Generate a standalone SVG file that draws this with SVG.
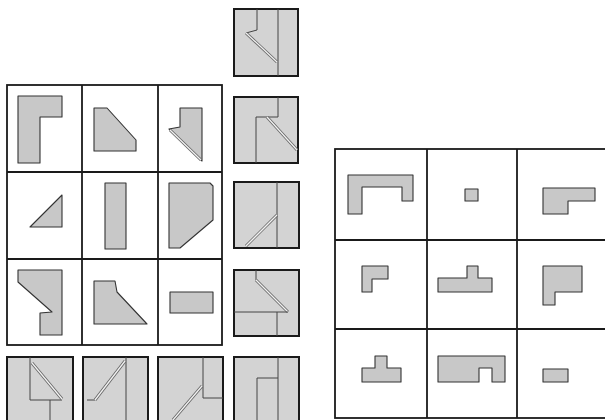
<svg xmlns="http://www.w3.org/2000/svg" width="605" height="420" viewBox="0 0 605 420">
<style>
.grid{fill:none;stroke:#1a1a1a;stroke-width:1.8}
.shp{fill:#c8c8c8;stroke:#333;stroke-width:1.1;stroke-linejoin:round}
.sq{fill:#d3d3d3;stroke:#1a1a1a;stroke-width:2}
.ln{fill:none;stroke:#444;stroke-width:1}
.gd{fill:none;stroke:#666;stroke-width:3}
.gl{fill:none;stroke:#f2f2f2;stroke-width:1.3}
</style>
<rect width="605" height="420" fill="#fff"/>
<g id="left-grid">
<rect class="grid" x="7" y="85" width="215" height="260"/>
<line class="grid" x1="82" y1="85" x2="82" y2="345"/>
<line class="grid" x1="158" y1="85" x2="158" y2="345"/>
<line class="grid" x1="7" y1="172" x2="222" y2="172"/>
<line class="grid" x1="7" y1="259" x2="222" y2="259"/>
<polygon class="shp" points="18,96 62,96 62,117 40,117 40,163 18,163"/>
<polygon class="shp" points="94,108 107,108 136,140 136,151 94,151"/>
<polygon class="shp" points="180,108 202,108 202,161 169,129 180,127"/>
<line class="gd" x1="170" y1="130" x2="201" y2="160"/>
<line class="gl" x1="170" y1="130" x2="201" y2="160"/>
<polygon class="shp" points="30,227 62,227 62,195"/>
<rect class="shp" x="105" y="183" width="21" height="66"/>
<polygon class="shp" points="169,183 210,183 213,186 213,220 180,248 169,248"/>
<polygon class="shp" points="18,270 62,270 62,335 40,335 40,313 52,312 18,282"/>
<polygon class="shp" points="94,281 115,281 117,292 147,324 94,324"/>
<rect class="shp" x="170" y="292" width="43" height="21"/>
</g>
<g id="bottom-squares">
<rect class="sq" x="7" y="357" width="66" height="70"/>
<polyline class="ln" points="30,357 30,400 62,400"/>
<line class="ln" x1="50" y1="400" x2="50" y2="427"/>
<line class="gd" x1="32" y1="363" x2="62" y2="399"/>
<line class="gl" x1="32" y1="363" x2="62" y2="399"/>
<rect class="sq" x="83" y="357" width="65" height="70"/>
<line class="ln" x1="126" y1="357" x2="126" y2="427"/>
<line class="ln" x1="87" y1="400" x2="95" y2="400"/>
<line class="gd" x1="95" y1="400" x2="125" y2="361"/>
<line class="gl" x1="95" y1="400" x2="125" y2="361"/>
<rect class="sq" x="158" y="357" width="65" height="70"/>
<polyline class="ln" points="203,357 203,398 223,398"/>
<line class="gd" x1="202" y1="386" x2="173" y2="420"/>
<line class="gl" x1="202" y1="386" x2="173" y2="420"/>
</g>
<g id="right-column">
<rect class="sq" x="234" y="9" width="64" height="67"/>
<line class="ln" x1="278" y1="9" x2="278" y2="76"/>
<polyline class="ln" points="257,9 257,30 246,33"/>
<line class="gd" x1="246" y1="33" x2="277" y2="62"/>
<line class="gl" x1="246" y1="33" x2="277" y2="62"/>
<rect class="sq" x="234" y="97" width="64" height="66"/>
<polyline class="ln" points="278,97 278,117 256,117 256,163"/>
<line class="gd" x1="267" y1="117" x2="297" y2="150"/>
<line class="gl" x1="267" y1="117" x2="297" y2="150"/>
<rect class="sq" x="234" y="182" width="65" height="66"/>
<line class="ln" x1="277" y1="182" x2="277" y2="248"/>
<line class="gd" x1="246" y1="246" x2="277" y2="215"/>
<line class="gl" x1="246" y1="246" x2="277" y2="215"/>
<rect class="sq" x="234" y="270" width="65" height="66"/>
<line class="ln" x1="256" y1="270" x2="256" y2="280"/>
<line class="gd" x1="256" y1="280" x2="288" y2="312"/>
<line class="gl" x1="256" y1="280" x2="288" y2="312"/>
<line class="ln" x1="234" y1="312" x2="288" y2="312"/>
<line class="ln" x1="277" y1="312" x2="277" y2="336"/>
<rect class="sq" x="234" y="357" width="65" height="70"/>
<line class="ln" x1="278" y1="357" x2="278" y2="427"/>
<polyline class="ln" points="278,378 257,378 257,427"/>
</g>
<g id="right-grid">
<rect class="grid" x="335" y="149" width="272" height="269"/>
<line class="grid" x1="427" y1="149" x2="427" y2="418"/>
<line class="grid" x1="517" y1="149" x2="517" y2="418"/>
<line class="grid" x1="335" y1="240" x2="607" y2="240"/>
<line class="grid" x1="335" y1="329" x2="607" y2="329"/>
<polygon class="shp" points="348,175 413,175 413,201 402,201 402,187 362,187 362,214 348,214"/>
<rect class="shp" x="465" y="189" width="13" height="12"/>
<polygon class="shp" points="543,188 595,188 595,201 568,201 568,214 543,214"/>
<polygon class="shp" points="362,266 388,266 388,279 372,279 372,292 362,292"/>
<polygon class="shp" points="438,278 467,278 467,266 478,266 478,278 492,278 492,292 438,292"/>
<polygon class="shp" points="543,266 582,266 582,292 555,292 555,305 543,305"/>
<polygon class="shp" points="362,368 375,368 375,356 387,356 387,368 401,368 401,382 362,382"/>
<polygon class="shp" points="438,356 505,356 505,382 492,382 492,368 479,368 479,382 438,382"/>
<rect class="shp" x="543" y="369" width="25" height="13"/>
</g>
</svg>
